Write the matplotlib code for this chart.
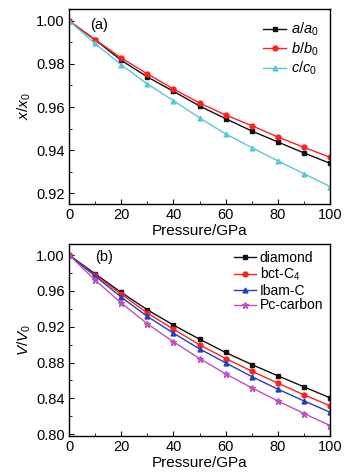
import numpy as np
import matplotlib
matplotlib.use("Agg")
import matplotlib.pyplot as plt
from matplotlib.ticker import MultipleLocator

plt.rcParams['font.family'] = ['Liberation Sans', 'DejaVu Sans']
plt.rcParams['mathtext.fontset'] = 'custom'
plt.rcParams['mathtext.rm'] = 'Liberation Sans'
plt.rcParams['mathtext.it'] = 'Liberation Sans:italic'

# pressure points (GPa)
pressure = [0, 10, 20, 30, 40, 50, 60, 70, 80, 90, 100]

# panel (a): lattice parameter ratios
a_ratio = [1.000, 0.9912, 0.9817, 0.9740, 0.9673, 0.9605, 0.9546, 0.9489, 0.9438, 0.9387, 0.9339]
b_ratio = [1.000, 0.9913, 0.9828, 0.9754, 0.9684, 0.9619, 0.9563, 0.9514, 0.9461, 0.9413, 0.9367]
c_ratio = [1.000, 0.9895, 0.9796, 0.9707, 0.9630, 0.9550, 0.9475, 0.9412, 0.9350, 0.9291, 0.9231]

# panel (b): volume ratios
diamond = [1.000, 0.9791, 0.9583, 0.9389, 0.9218, 0.9061, 0.8912, 0.8778, 0.8652, 0.8529, 0.8406]
bct_c4 = [1.000, 0.9777, 0.9564, 0.9352, 0.9173, 0.8998, 0.8845, 0.8704, 0.8570, 0.8440, 0.8317]
ibam_c = [1.000, 0.9765, 0.9531, 0.9315, 0.9128, 0.8953, 0.8797, 0.8644, 0.8503, 0.8372, 0.8246]
pc_carbon = [1.000, 0.9721, 0.9464, 0.9233, 0.9032, 0.8845, 0.8674, 0.8518, 0.8372, 0.8231, 0.8097]

fig = plt.figure(figsize=(3.5, 4.76), dpi=100)
ax1 = fig.add_axes([69/350, 1-204/476, 261/350, 195/476])
ax2 = fig.add_axes([69/350, 1-436/476, 261/350, 192/476])

ms = 3.5
lw = 1.0
ax1.plot(pressure, a_ratio, '-s', color='#111111', ms=ms, lw=lw, label=r'$a/a_0$')
ax1.plot(pressure, b_ratio, '-o', color='#ff2020', ms=ms, lw=lw, label=r'$b/b_0$')
ax1.plot(pressure, c_ratio, '-^', color='#5bc8d8', ms=ms, lw=lw, label=r'$c/c_0$')

ax2.plot(pressure, diamond, '-s', color='#111111', ms=ms, lw=lw, label='diamond')
ax2.plot(pressure, bct_c4, '-o', color='#ff2020', ms=ms, lw=lw, label=r'bct-C$_\mathregular{4}$')
ax2.plot(pressure, ibam_c, '-^', color='#2040c0', ms=ms, lw=lw, label='Ibam-C')
ax2.plot(pressure, pc_carbon, '-*', color='#c050c0', ms=ms+1, lw=lw, label='Pc-carbon')

ax1.set_ylim(0.915, 1.0055)
ax1.yaxis.set_major_locator(MultipleLocator(0.02))
ax1.yaxis.set_minor_locator(MultipleLocator(0.01))
ax1.set_ylabel(r'$x/x_0$', fontsize=11, labelpad=2)
ax1.text(0.08, 0.9, '(a)', transform=ax1.transAxes, fontsize=10.5)

ax2.set_ylim(0.798, 1.0123)
ax2.yaxis.set_major_locator(MultipleLocator(0.04))
ax2.yaxis.set_minor_locator(MultipleLocator(0.02))
ax2.set_ylabel(r'$V/V_0$', fontsize=11, labelpad=2)
ax2.text(0.1, 0.91, '(b)', transform=ax2.transAxes, fontsize=10.5)

for ax in (ax1, ax2):
    ax.set_xlim(0, 100)
    ax.xaxis.set_major_locator(MultipleLocator(20))
    ax.xaxis.set_minor_locator(MultipleLocator(10))
    ax.set_xlabel('Pressure/GPa', fontsize=11, labelpad=1)
    ax.tick_params(which='both', direction='in', labelsize=10.5, pad=3)
    ax.tick_params(which='major', length=3.5)
    ax.tick_params(which='minor', length=2)
    ax.yaxis.set_major_formatter(matplotlib.ticker.FormatStrFormatter('%.2f'))
    for s in ax.spines.values():
        s.set_linewidth(1.0)

ax1.legend(loc='upper right', frameon=False, fontsize=10.5, handlelength=1.6,
           handletextpad=0.3, labelspacing=0.15, borderaxespad=0.4)
ax2.legend(loc='upper right', frameon=False, fontsize=10, handlelength=1.6,
           handletextpad=0.25, labelspacing=0.05, borderaxespad=0.1)

fig.savefig('out.png', dpi=100)
